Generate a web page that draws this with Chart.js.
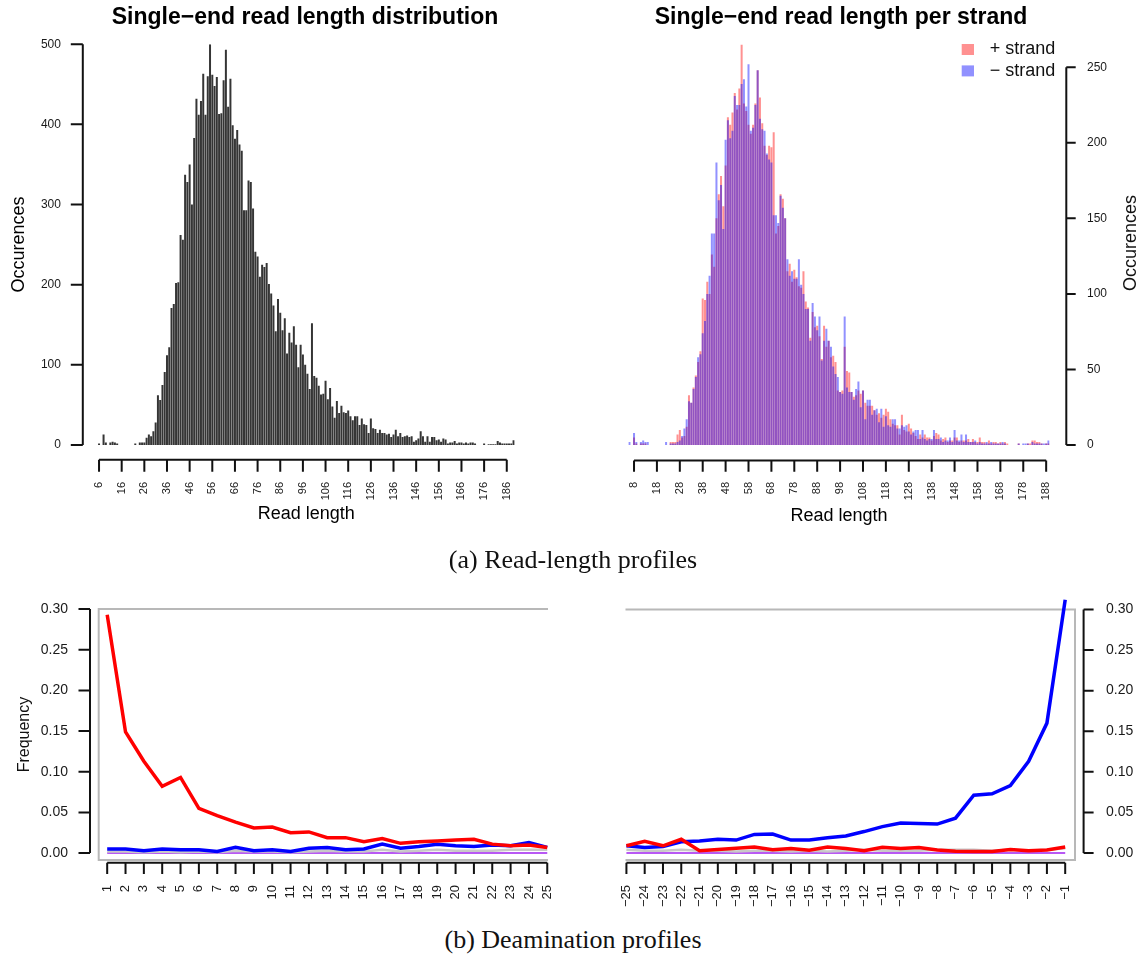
<!DOCTYPE html>
<html><head><meta charset="utf-8">
<script src="https://cdn.jsdelivr.net/npm/chart.js@4.4.1/dist/chart.umd.min.js"></script>
<style>
html,body{margin:0;padding:0;background:#fff;}
body{width:1146px;height:961px;position:relative;overflow:hidden;}
canvas{position:absolute;}
.cap{position:absolute;left:0;width:1146px;text-align:center;font-family:'Liberation Serif','Times New Roman',serif;font-size:26px;color:#111;line-height:1;}
</style></head><body>
<canvas id="cA" width="610" height="540" style="left:0;top:0"></canvas>
<canvas id="cB" width="610" height="540" style="left:536px;top:0"></canvas>
<canvas id="cC" width="590" height="340" style="left:0;top:570px"></canvas>
<canvas id="cD" width="556" height="340" style="left:590px;top:570px"></canvas>
<div class="cap" style="top:547px">(a) Read-length profiles</div>
<div class="cap" style="top:927px">(b) Deamination profiles</div>
<script>
// ---------- DATA ----------
const readLengths = Array.from({length: 184}, (_, i) => 6 + i); // 6..189

const allCounts = [
  2,0,13,3,0,3,4,3,2,0,
  0,0,0,0,0,0,2,0,3,3,
  3,9,13,11,17,28,62,56,75,91,
  112,122,171,176,202,203,262,256,337,328,
  350,300,383,432,412,429,463,412,460,500,
  462,448,459,413,414,455,493,422,457,399,
  382,393,375,367,293,293,330,328,295,241,
  235,210,225,222,227,201,189,174,142,182,
  165,143,158,114,140,128,148,125,97,125,
  113,100,89,70,152,86,84,74,63,64,
  80,57,71,48,34,55,40,49,41,40,
  43,36,31,36,36,25,33,26,25,15,
  33,21,20,15,19,15,15,13,14,10,
  13,19,11,15,10,11,12,10,11,4,
  6,8,17,11,4,11,4,10,10,6,
  7,4,8,7,2,3,3,5,2,3,
  3,2,3,2,3,3,2,0,0,0,
  2,0,1,1,1,1,5,3,2,2,
  2,2,2,6
];

const plusCounts = [
  0,0,5,1,0,1,1,1,0,0,
  0,0,0,0,0,0,0,0,2,2,
  2,7,10,5,6,12,33,28,38,46,
  55,62,97,96,108,100,126,118,150,166,
  178,158,185,217,212,220,233,222,236,265,
  226,221,212,206,212,226,248,230,213,198,
  192,198,197,207,140,145,166,163,150,115,
  120,108,116,111,105,104,115,95,91,71,
  88,78,79,72,57,79,65,69,58,59,
  55,36,35,36,65,49,48,35,32,33,
  36,34,36,28,26,26,26,23,20,21,
  18,20,24,22,17,14,13,13,7,20,
  10,9,14,11,8,6,4,7,5,7,
  5,5,3,6,8,7,3,4,5,2,
  3,3,5,5,2,3,3,3,4,2,
  4,2,2,5,2,2,1,3,1,2,
  2,1,2,1,2,1,0,0,0,0,
  1,0,0,0,1,1,3,3,2,2,
  1,0,1,1
];

const minusCounts = [
  2,0,8,2,0,2,3,2,2,0,
  0,0,0,0,0,0,2,0,1,1,
  1,2,3,6,11,17,29,28,37,45,
  58,60,74,82,100,112,140,140,187,162,
  172,143,202,215,203,208,231,225,225,239,
  242,224,252,208,210,225,248,216,209,208,
  193,189,187,152,152,147,165,157,150,123,
  112,115,110,110,123,106,100,90,90,69,
  94,85,76,85,56,69,77,69,65,52,
  47,45,35,34,85,38,35,35,30,37,
  42,25,36,17,30,30,20,23,24,15,
  24,12,19,13,12,17,17,11,11,13,
  12,13,9,7,9,10,10,4,10,4,
  3,4,4,10,4,4,5,2,3,3,
  5,2,10,3,3,7,2,7,2,2,
  2,3,1,2,1,1,2,1,2,1,
  1,1,1,2,1,0,0,0,0,0,
  1,0,1,1,1,0,2,1,1,1,
  1,1,1,3
];

const leftTickLengths  = [6,16,26,36,46,56,66,76,86,96,106,116,126,136,146,156,166,176,186];
const rightTickLengths = [8,18,28,38,48,58,68,78,88,98,108,118,128,138,148,158,168,178,188];
const countTicksLeft  = [0,100,200,300,400,500];
const countTicksRight = [0,50,100,150,200,250];

const pos5 = [1,2,3,4,5,6,7,8,9,10,11,12,13,14,15,16,17,18,19,20,21,22,23,24,25];
const pos3 = [-25,-24,-23,-22,-21,-20,-19,-18,-17,-16,-15,-14,-13,-12,-11,-10,-9,-8,-7,-6,-5,-4,-3,-2,-1];

const ctFreq5 = [0.293,0.149,0.113,0.082,0.093,0.055,0.046,0.038,0.031,0.032,0.025,0.026,0.019,0.019,0.014,0.018,0.012,0.014,0.015,0.016,0.017,0.011,0.009,0.010,0.007];
const gaFreq5 = [0.005,0.005,0.003,0.005,0.004,0.004,0.002,0.007,0.003,0.004,0.002,0.006,0.007,0.004,0.005,0.011,0.006,0.008,0.011,0.009,0.008,0.010,0.009,0.013,0.007];
const otherFreq5 = [0.002,0.002,0.001,0.002,0.001,0.002,0.001,0.003,0.002,0.002,0.001,0.002,0.003,0.002,0.002,0.004,0.002,0.003,0.004,0.003,0.003,0.003,0.004,0.004,0.004];
const zeroFreq5 = [0,0,0,0,0,0,0,0,0,0,0,0,0,0,0,0,0,0,0,0,0,0,0,0,0];

const ctFreq3 = [0.009,0.0144,0.009,0.017,0.003,0.0045,0.006,0.0075,0.004,0.0057,0.0034,0.0076,0.0057,0.003,0.0072,0.0057,0.0068,0.0038,0.0023,0.002,0.002,0.0045,0.003,0.0038,0.0076];
const gaFreq3 = [0.009,0.007,0.008,0.014,0.015,0.017,0.016,0.023,0.0235,0.016,0.016,0.019,0.021,0.0265,0.0326,0.037,0.0364,0.0357,0.043,0.0713,0.073,0.083,0.113,0.160,0.312];
const otherFreq3 = [0.004,0.003,0.003,0.004,0.003,0.003,0.002,0.003,0.003,0.002,0.003,0.002,0.003,0.004,0.003,0.003,0.003,0.004,0.004,0.004,0.003,0.004,0.003,0.004,0.006];
const zeroFreq3 = [0,0,0,0,0,0,0,0,0,0,0,0,0,0,0,0,0,0,0,0,0,0,0,0,0];

const freqTicks = [0,0.05,0.10,0.15,0.20,0.25,0.30];

// ---------- STYLE ----------
const FONT = "'Liberation Sans', Arial, Helvetica, sans-serif";
Chart.defaults.font.family = FONT;
Chart.defaults.color = '#1a1a1a';

// R-like detached axes, plot box, extra texts and legend
const rStyle = {
  id: 'rStyle',
  beforeDatasetsDraw(chart, args, o) {
    if (!o || !o.box) return;
    const {ctx, chartArea: a} = chart;
    ctx.save();
    ctx.strokeStyle = o.box.color; ctx.lineWidth = o.box.width;
    ctx.beginPath();
    if (o.box.side === 'left') {
      ctx.moveTo(a.right, a.top); ctx.lineTo(a.left, a.top); ctx.lineTo(a.left, a.bottom); ctx.lineTo(a.right, a.bottom);
    } else {
      ctx.moveTo(a.left, a.top); ctx.lineTo(a.right, a.top); ctx.lineTo(a.right, a.bottom); ctx.lineTo(a.left, a.bottom);
    }
    ctx.stroke();
    ctx.restore();
  },
  afterDraw(chart, args, o) {
    if (!o) return;
    const {ctx, chartArea: a} = chart;
    ctx.save();
    ctx.strokeStyle = '#111'; ctx.lineWidth = o.lineWidth || 2;
    if (o.x) {
      const s = chart.scales.x; const y0 = a.bottom + o.x.gap;
      const px = s.ticks.map((t, i) => s.getPixelForTick(i));
      ctx.beginPath();
      ctx.moveTo(px[0], y0); ctx.lineTo(px[px.length - 1], y0);
      px.forEach(p => { ctx.moveTo(p, y0); ctx.lineTo(p, y0 + o.x.len); });
      ctx.stroke();
    }
    if (o.y) {
      const s = chart.scales.y; const right = o.y.side === 'right';
      const x0 = right ? a.right + o.y.gap : a.left - o.y.gap;
      const py = s.ticks.map((t, i) => s.getPixelForTick(i));
      ctx.beginPath();
      ctx.moveTo(x0, py[0]); ctx.lineTo(x0, py[py.length - 1]);
      py.forEach(p => { ctx.moveTo(x0, p); ctx.lineTo(right ? x0 + o.y.len : x0 - o.y.len, p); });
      ctx.stroke();
    }
    (o.texts || []).forEach(t => {
      ctx.save();
      ctx.fillStyle = t.color || '#111';
      ctx.font = t.font; ctx.textAlign = t.align || 'center'; ctx.textBaseline = 'middle';
      ctx.translate(t.x, t.y); if (t.rot) ctx.rotate(t.rot * Math.PI / 180);
      ctx.fillText(t.text, 0, 0);
      ctx.restore();
    });
    (o.legend || []).forEach(l => {
      ctx.fillStyle = l.color; ctx.fillRect(l.x, l.y, l.w, l.h);
      ctx.fillStyle = '#111'; ctx.font = l.font; ctx.textAlign = 'left'; ctx.textBaseline = 'middle';
      ctx.fillText(l.text, l.tx, l.y + l.h / 2);
    });
    ctx.restore();
  }
};
Chart.register(rStyle);

const noGrid = { display: false, drawTicks: false };
const noBorder = { display: false };
const base = { responsive: false, animation: false, devicePixelRatio: 1, events: [] };
// invisible spacer axis that reserves room (keeps the title centred on the whole canvas)
function spacer(position, width) {
  return { type: 'linear', position, display: true, min: 0, max: 1, grid: noGrid, border: noBorder,
           ticks: { display: false }, afterFit: s => { s.width = width; } };
}

// ---------- TOP LEFT ----------
new Chart(document.getElementById('cA'), {
  type: 'bar',
  data: { labels: readLengths, datasets: [{ label: 'all', data: allCounts, backgroundColor: '#353535', barPercentage: 0.88, categoryPercentage: 1 }] },
  options: Object.assign({}, base, {
    layout: { padding: 0 },
    plugins: {
      legend: { display: false }, tooltip: { enabled: false },
      title: { display: true, text: 'Single\u2212end read length distribution', color: '#000', font: { size: 23, weight: 'bold' }, padding: { top: 2.2, bottom: 13.2 } },
      rStyle: { x: { gap: 14.7, len: 12 }, y: { gap: 15.1, len: 12 } }
    },
    scales: {
      x: {
        type: 'category', offset: true, grid: noGrid, border: noBorder,
        afterBuildTicks: s => { s.ticks = s.ticks.filter(t => leftTickLengths.includes(readLengths[t.value])); },
        afterFit: s => { s.height = 95; },
        ticks: { autoSkip: false, minRotation: 90, maxRotation: 90, padding: 37, font: { size: 11 }, callback: v => String(readLengths[v]) },
        title: { display: true, text: 'Read length', color: '#000', font: { size: 18 }, padding: { top: 0, bottom: 15 } }
      },
      y: {
        min: 0, max: 500, bounds: 'data', grid: noGrid, border: noBorder,
        afterBuildTicks: s => { s.ticks = countTicksLeft.map(v => ({ value: v })); },
        afterFit: s => { s.width = 97.9; },
        ticks: { padding: 37, font: { size: 12 } },
        title: { display: true, text: 'Occurences', color: '#000', font: { size: 18 }, padding: { top: 7.8, bottom: 0 } }
      },
      pad: spacer('right', 95.3)
    }
  })
});

// ---------- TOP RIGHT ----------
new Chart(document.getElementById('cB'), {
  type: 'bar',
  data: { labels: readLengths, datasets: [
    { label: '\u2212 strand', data: minusCounts, backgroundColor: 'rgba(0,0,255,0.43)', grouped: false, barPercentage: 0.88, categoryPercentage: 1 },
    { label: '+ strand', data: plusCounts, backgroundColor: 'rgba(255,0,0,0.43)', grouped: false, barPercentage: 0.88, categoryPercentage: 1 }
  ] },
  options: Object.assign({}, base, {
    layout: { padding: 0 },
    plugins: {
      legend: { display: false }, tooltip: { enabled: false },
      title: { display: true, text: 'Single\u2212end read length per strand', color: '#000', font: { size: 23, weight: 'bold' }, padding: { top: 2.2, bottom: 13.2 } },
      rStyle: {
        x: { gap: 15.4, len: 11.4 }, y: { side: 'right', gap: 16.7, len: 9.4 },
        texts: [{ text: 'Occurences', x: 594.6, y: 243, rot: -90, font: '18px ' + FONT }],
        legend: [
          { color: 'rgba(255,0,0,0.43)', x: 425.7, y: 44, w: 12.3, h: 11, text: '+ strand', tx: 453.7, font: '18px ' + FONT },
          { color: 'rgba(0,0,255,0.43)', x: 425.7, y: 65.4, w: 12.3, h: 11, text: '\u2212 strand', tx: 453.7, font: '18px ' + FONT }
        ]
      }
    },
    scales: {
      x: {
        type: 'category', offset: true, grid: noGrid, border: noBorder,
        afterBuildTicks: s => { s.ticks = s.ticks.filter(t => rightTickLengths.includes(readLengths[t.value])); },
        afterFit: s => { s.height = 95; },
        ticks: { autoSkip: false, minRotation: 90, maxRotation: 90, padding: 37, font: { size: 11 }, callback: v => String(readLengths[v]) },
        title: { display: true, text: 'Read length', color: '#000', font: { size: 18 }, padding: { top: 0, bottom: 13 } }
      },
      y: {
        position: 'right', min: 0, max: 265, bounds: 'data', grid: noGrid, border: noBorder,
        afterBuildTicks: s => { s.ticks = countTicksRight.map(v => ({ value: v })); },
        afterFit: s => { s.width = 96.4; },
        ticks: { padding: 37.4, font: { size: 12 } }
      },
      pad: spacer('left', 92.3)
    }
  })
});

// ---------- BOTTOM ----------
function lineSet(label, xs, ys, color, width, order, clip) {
  const d = { label, data: xs.map((x, i) => ({ x, y: ys[i] })), borderColor: color, borderWidth: width, pointRadius: 0, tension: 0, fill: false, order };
  if (clip === false) d.clip = false;
  return d;
}
function freqOptions(side, padding, yWidth, yPad, xMin, xMax, xTickVals, tickFmt) {
  const yScale = {
    position: side, min: -0.0085, max: 0.30, bounds: 'data', grid: noGrid, border: noBorder,
    afterBuildTicks: s => { s.ticks = freqTicks.map(v => ({ value: v })); },
    afterFit: s => { s.width = yWidth; },
    ticks: { padding: yPad, font: { size: 14 }, callback: v => Number(v).toFixed(2) }
  };
  if (side === 'left') yScale.title = { display: true, text: 'Frequency', color: '#111', font: { size: 16 }, padding: { top: 15.3, bottom: 0 } };
  return Object.assign({}, base, {
    layout: { padding },
    plugins: {
      legend: { display: false }, tooltip: { enabled: false },
      rStyle: {
        box: { side: side, color: '#b8b8b8', width: 2 },
        x: { gap: 2.7, len: 11.3 },
        y: { side: side, gap: side === 'left' ? 8.7 : 8.6, len: side === 'left' ? 11.5 : 10 }
      }
    },
    scales: {
      x: {
        type: 'linear', min: xMin, max: xMax, bounds: 'data', grid: noGrid, border: noBorder,
        afterBuildTicks: s => { s.ticks = xTickVals.map(v => ({ value: v })); },
        afterFit: s => { s.height = 50; },
        ticks: { autoSkip: false, minRotation: 90, maxRotation: 90, padding: 25, font: { size: 13 }, callback: tickFmt }
      },
      y: yScale
    }
  });
}

new Chart(document.getElementById('cC'), {
  type: 'line',
  data: { datasets: [
    lineSet('C>T', pos5, ctFreq5, '#ff0000', 3.5, 1),
    lineSet('G>A', pos5, gaFreq5, '#0000ff', 3.5, 2),
    lineSet('other', pos5, otherFreq5, '#c8c8c8', 2.5, 3),
    lineSet('zero', pos5, zeroFreq5, '#a020f0', 1.5, 4)
  ] },
  options: freqOptions('left', { left: 0, right: 42, top: 18.3, bottom: 0 }, 98.7, 30.7, 0.537, 25.04, pos5, v => String(v))
});

new Chart(document.getElementById('cD'), {
  type: 'line',
  data: { datasets: [
    lineSet('C>T', pos3, ctFreq3, '#ff0000', 3.5, 1),
    lineSet('G>A', pos3, gaFreq3, '#0000ff', 3.5, 2, false),
    lineSet('other', pos3, otherFreq3, '#c8c8c8', 2.5, 3),
    lineSet('zero', pos3, zeroFreq3, '#a020f0', 1.5, 4)
  ] },
  options: freqOptions('right', { left: 35.5, right: 0, top: 18.3, bottom: 0 }, 71, 31, -25.05, -0.464, pos3, v => '\u2212' + Math.abs(v))
});
</script>
</body></html>
